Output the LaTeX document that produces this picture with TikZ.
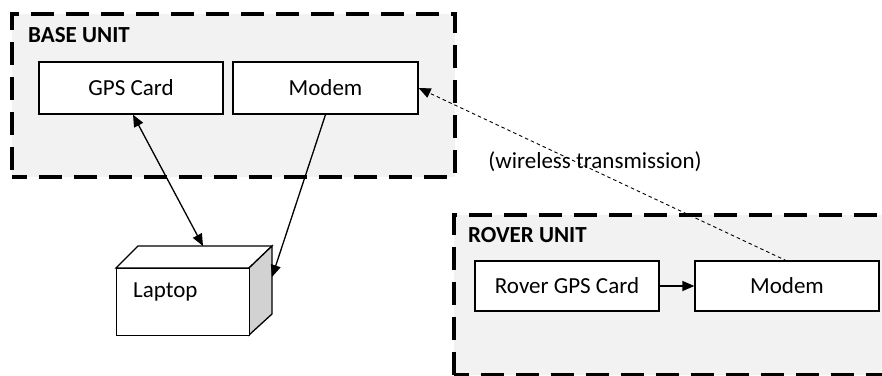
\documentclass[tikz,border=0pt]{standalone}
\usepackage{fontspec}
\setmainfont{Carlito}
\usetikzlibrary{arrows.meta}
\begin{document}
\begin{tikzpicture}[x=1pt,y=-1pt,
  font=\fontsize{23}{27}\selectfont,
  unit/.style={draw, line width=3.5pt, dash pattern=on 23pt off 12pt, dash phase=8pt, fill=gray!10, inner sep=0, anchor=north west},
  card/.style={draw, line width=1.3pt, fill=white, minimum width=184pt, minimum height=52pt, inner sep=0},
  ttl/.style={font=\fontsize{23}{27}\selectfont\bfseries, inner sep=0, anchor=west},
  lbl/.style={inner sep=0},
  arr/.style={line width=1.3pt, -{Triangle[length=12pt,width=10pt]}},
  darr/.style={line width=1.3pt, {Triangle[length=12pt,width=10pt]}-{Triangle[length=12pt,width=10pt]}},
  wl/.style={line width=0.9pt, dash pattern=on 3.5pt off 3pt, -{Triangle[length=12pt,width=10pt]}},
  box/.style={draw, line width=1.3pt, fill=white},
  side/.style={draw, line width=1.3pt, fill=gray!35},
]
\useasboundingbox (0,0) rectangle (882,375);
\begin{scope}
\clip (0,0) rectangle (882,375);
\node[unit, minimum width=443pt, minimum height=163pt] (base) at (10,12) {};
\node[unit, minimum width=460pt, minimum height=160pt] (rover) at (452,213) {};
\end{scope}
\node[ttl] (basettl) at (28,35) {BASE UNIT};
\node[ttl] (roverttl) at (468,235) {ROVER UNIT};

\node[card] (gps) at (131,88) {GPS Card};
\node[card, minimum width=185pt] (bmodem) at (325.5,88) {Modem};
\node[card, minimum height=50pt] (rgps) at (567,286) {Rover GPS Card};
\node[card, minimum height=50pt] (rmodem) at (787,286) {Modem};

% laptop cube
\draw[box] (116,268) -- (138,246) -- (272,246) -- (249,268) -- cycle;
\draw[side] (249,268) -- (272,246) -- (272,314) -- (249,335) -- cycle;
\node[box, minimum width=133pt, minimum height=67pt, inner sep=0, anchor=north west] (laptop) at (116,268) {};
\node[lbl, anchor=west] (laptoplbl) at (133,292) {Laptop};
\coordinate (laptoptop) at (203,246);
\coordinate (laptopside) at (272,277);

\draw[darr] (gps.south) ++(2,0) coordinate (gpsout) -- (laptoptop);
\draw[arr] (bmodem.south) -- (laptopside);
\draw[arr] (rgps.east) -- (rmodem.west);
\coordinate (rmtop) at (787,261);
\draw[wl] (rmtop) -- (bmodem.east);
\node[lbl] (wlbl) at (595,162) {(wireless transmission)};
\end{tikzpicture}
\end{document}
